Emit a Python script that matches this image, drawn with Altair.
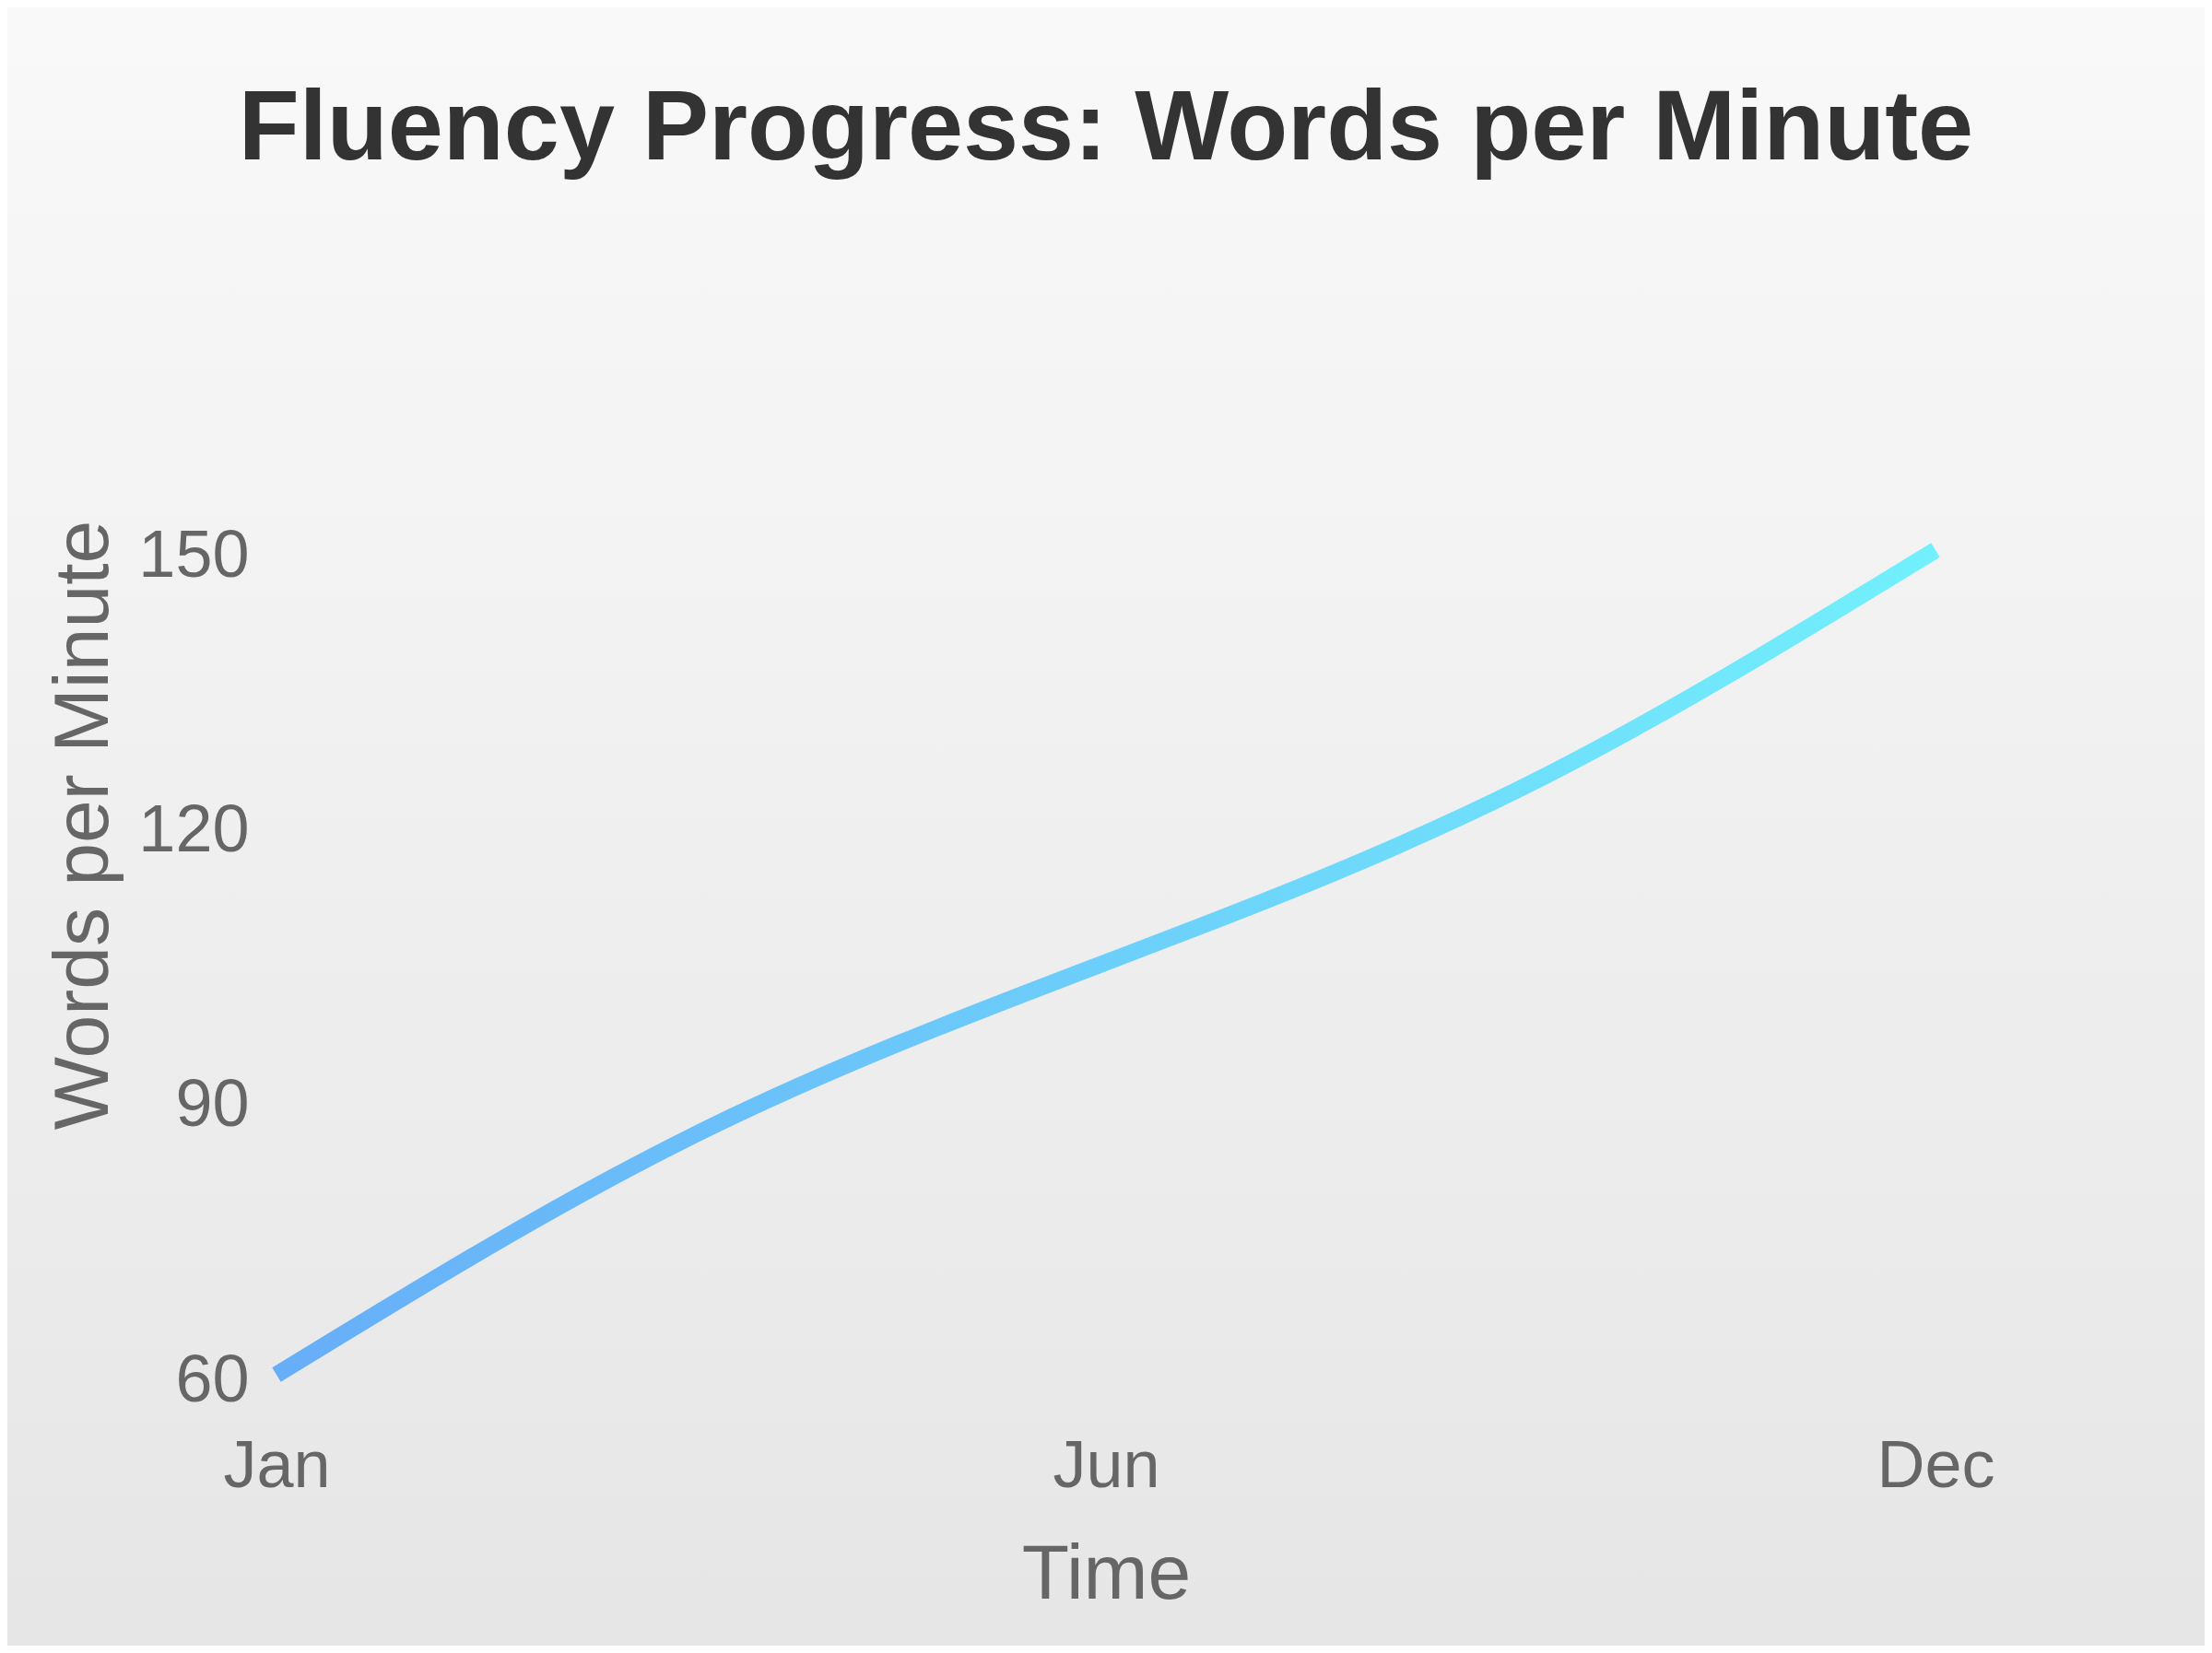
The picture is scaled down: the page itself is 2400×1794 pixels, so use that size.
import altair as alt
import pandas as pd

# ---- data ----
months = ["Jan", "Mar", "Jun", "Sep", "Dec"]
wpm = [60, 86, 105, 124, 150]
tick_months = ["Jan", "Jun", "Dec"]
y_ticks = [60, 90, 120, 150]
title_text = "Fluency Progress: Words per Minute"
x_title = "Time"
y_title = "Words per Minute"

df = pd.DataFrame({"month": months, "wpm": wpm})
one = pd.DataFrame({"k": [0]})

FONT = "Liberation Sans, Arial, Helvetica, sans-serif"
W, H = 1800, 895
PL, PT, PR, PB = 292, 589, 292, 294

bg = alt.Chart(one).mark_rect(
    fill=alt.Gradient(
        gradient="linear",
        stops=[alt.GradientStop(color="#f9f9f9", offset=0),
               alt.GradientStop(color="#e6e6e6", offset=1)],
        x1=0, y1=0, x2=0, y2=1,
    )
).encode(
    x=alt.value(-PL), x2=alt.value(W + PR),
    y=alt.value(-PT), y2=alt.value(H + PB),
)

line = alt.Chart(df).mark_line(
    interpolate="natural",
    strokeWidth=18,
    stroke=alt.Gradient(
        gradient="linear",
        stops=[alt.GradientStop(color="#67aef8", offset=0),
               alt.GradientStop(color="#72f0fc", offset=1)],
        x1=0, y1=0, x2=1, y2=0,
    ),
).encode(
    x=alt.X(
        "month:N", sort=months,
        scale=alt.Scale(type="point", padding=0),
        axis=alt.Axis(
            values=tick_months, title=x_title, labelAngle=0,
            labelFont=FONT, labelFontSize=72, labelColor="#666666",
            labelPadding=64, ticks=False, tickSize=0, domain=False, grid=False,
            titleFont=FONT, titleFontSize=84, titleColor="#666666",
            titleFontWeight="normal", titleX=W / 2, titleY=242,
            titleBaseline="alphabetic", titleAlign="center", zindex=1,
        ),
    ),
    y=alt.Y(
        "wpm:Q",
        scale=alt.Scale(domain=[60, 150], nice=False, zero=False),
        axis=alt.Axis(
            values=y_ticks, title=y_title,
            labelFont=FONT, labelFontSize=72, labelColor="#666666",
            labelPadding=30, labelOffset=6,
            ticks=False, tickSize=0, domain=False, grid=False,
            titleFont=FONT, titleFontSize=84, titleColor="#666666",
            titleFontWeight="normal", titleAngle=270,
            titleX=-184, titleY=298,
            titleBaseline="alphabetic", titleAlign="center", zindex=1,
        ),
    ),
)

title = alt.Chart(one).mark_text(
    text=title_text, font=FONT, fontSize=108, fontWeight="bold",
    color="#333333", align="center", baseline="alphabetic",
).encode(x=alt.value(W / 2), y=alt.value(-424))

chart = alt.layer(bg, line, title).properties(
    width=W, height=H,
    autosize=alt.AutoSizeParams(type="none"),
    padding={"left": PL, "top": PT, "right": PR, "bottom": PB},
).configure_view(strokeWidth=0).configure(background="#eeeeee")

chart.save("out.html", embed_options={"renderer": "svg", "actions": False})
